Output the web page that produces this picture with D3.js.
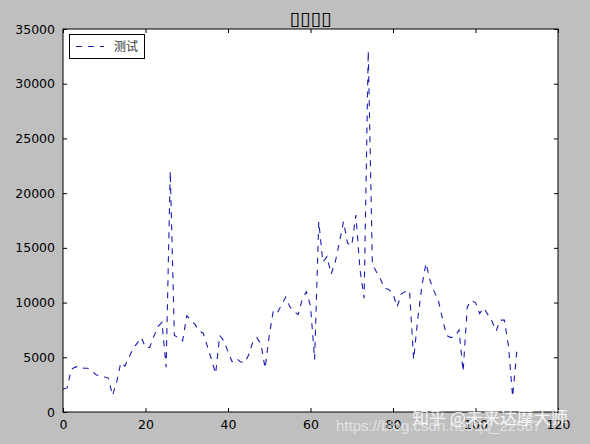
<!DOCTYPE html>
<html><head><meta charset="utf-8">
<script src="https://cdn.jsdelivr.net/npm/d3@7"></script>
<style>
html,body{margin:0;padding:0;background:#bfbfbf;}
svg{display:block;}
</style></head>
<body>
<svg id="c" width="590" height="444"></svg>
<script>
const titleText = "\u25AF\u25AF\u25AF\u25AF";
const seriesName = "测试";
const xTicks = [0, 20, 40, 60, 80, 100, 120];
const yTicks = [0, 5000, 10000, 15000, 20000, 25000, 30000, 35000];
const values = [
 2100, 2200, 3900, 4100, 4200, 4000, 4000, 3800, 3400, 3300,
 3200, 3100, 1500, 2700, 4500, 4200, 5000, 5800, 6300, 6800,
 5900, 5900, 6900, 7800, 8200, 4100, 22000, 7000, 6800, 6500,
 8800, 8400, 8000, 7400, 7200, 6000, 4800, 3500, 7000, 6500,
 5500, 4600, 4900, 4600, 4500, 5200, 6400, 6800, 6200, 4000,
 7000, 9300, 9100, 9800, 10500, 9600, 9200, 8900, 10300, 11000,
 9700, 4800, 17400, 13700, 14200, 12600, 13700, 15500, 17400, 15400,
 15200, 18000, 13000, 10400, 33000, 13500, 12800, 12100, 11300, 11200,
 10800, 9600, 10800, 11000, 11100, 4800, 8500, 11500, 13600, 12000,
 11000, 10200, 8500, 7000, 6800, 6900, 7500, 3700, 9600, 10200,
 10000, 9000, 9500, 8900, 8300, 7400, 8400, 8400, 6000, 1400,
 5500
];

const svg = d3.select("#c");
const m = {left: 63, right: 558, top: 29, bottom: 412};
const x = d3.scaleLinear().domain([0, 120]).range([m.left, m.right]);
const y = d3.scaleLinear().domain([0, 35000]).range([m.bottom, m.top]);

svg.append("rect").attr("width", 590).attr("height", 444).attr("fill", "#bfbfbf");
svg.append("rect").attr("x", m.left).attr("y", m.top)
  .attr("width", m.right - m.left).attr("height", m.bottom - m.top).attr("fill", "#fff");

const tickFont = "DejaVu Sans, sans-serif";
const xb = svg.append("g").attr("transform", `translate(0,${m.bottom})`)
  .call(d3.axisBottom(x).tickValues(xTicks).tickFormat(d3.format("d")).tickSizeInner(-4).tickSizeOuter(0).tickPadding(8));
const xt = svg.append("g").attr("transform", `translate(0,${m.top})`)
  .call(d3.axisTop(x).tickValues(xTicks).tickFormat("").tickSizeInner(-4).tickSizeOuter(0));
const yl = svg.append("g").attr("transform", `translate(${m.left},0)`)
  .call(d3.axisLeft(y).tickValues(yTicks).tickFormat(d3.format("d")).tickSizeInner(-4).tickSizeOuter(0).tickPadding(8));
const yr = svg.append("g").attr("transform", `translate(${m.right},0)`)
  .call(d3.axisRight(y).tickValues(yTicks).tickFormat("").tickSizeInner(-4).tickSizeOuter(0));
[xb, xt, yl, yr].forEach(g => {
  g.select(".domain").remove();
  g.selectAll("line").attr("stroke", "#000").attr("stroke-width", 1);
  g.selectAll("text").attr("font-family", tickFont).attr("font-size", 12.5).attr("fill", "#000");
});

const lineColor = "#1c1cb0";
const line = d3.line().x((d, i) => x(i)).y(d => y(d));
svg.append("path").datum(values).attr("d", line)
  .attr("fill", "none").attr("stroke", lineColor).attr("stroke-width", 1.1)
  .attr("stroke-dasharray", "6,6");

svg.append("rect").attr("x", m.left).attr("y", m.top)
  .attr("width", m.right - m.left).attr("height", m.bottom - m.top)
  .attr("fill", "none").attr("stroke", "#000").attr("stroke-width", 1);

// title (missing-glyph boxes as in the reference)
svg.append("text").attr("x", (m.left + m.right) / 2).attr("y", 25)
  .attr("text-anchor", "middle").attr("font-family", "DejaVu Sans, sans-serif")
  .attr("font-size", 19).attr("fill", "#000").text(titleText);

// legend
const lg = svg.append("g");
lg.append("rect").attr("x", 69.5).attr("y", 34.5).attr("width", 75).attr("height", 24)
  .attr("fill", "#fff").attr("stroke", "#000").attr("stroke-width", 1);
lg.append("line").attr("x1", 76).attr("x2", 104).attr("y1", 46.5).attr("y2", 46.5)
  .attr("stroke", lineColor).attr("stroke-width", 1.1).attr("stroke-dasharray", "6,6");
lg.append("text").attr("x", 114).attr("y", 51).attr("font-family", "Noto Sans CJK SC, sans-serif")
  .attr("font-size", 12).attr("fill", "#333").text(seriesName);

// watermarks
svg.append("text").attr("x", 336).attr("y", 431).attr("font-family", "Liberation Sans, sans-serif")
  .attr("font-size", 15).attr("fill", "#ffffff").attr("opacity", 0.55)
  .text("https://blog.csdn.net/qq_22567");
svg.append("text").attr("x", 412).attr("y", 424).attr("font-family", "Noto Sans CJK SC, sans-serif")
  .attr("font-size", 17).attr("fill", "#ffffff").attr("opacity", 0.85)
  .text("知乎 @未来达摩大师");
</script>
</body></html>
